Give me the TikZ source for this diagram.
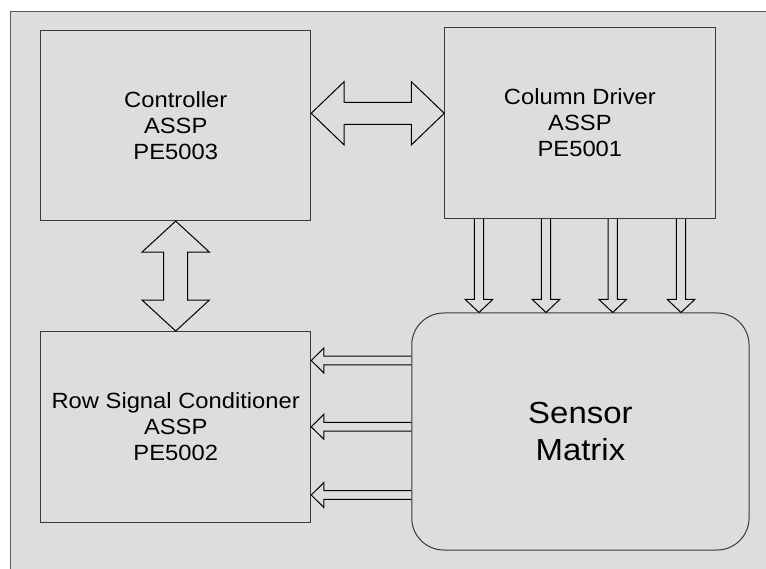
\documentclass[tikz,border=0pt]{standalone}
\usepackage{fontspec}
\setmainfont{Liberation Sans}[FakeStretch=1.08]
\usetikzlibrary{calc}
\definecolor{panel}{HTML}{DDDDDD}
\definecolor{edge}{HTML}{3A3A3A}
\begin{document}
\begin{tikzpicture}[x=1pt, y=-1pt, line width=1pt,
  unit/.style={draw=edge, inner sep=0pt, align=center, font=\fontsize{22}{26}\selectfont},
  bus/.style={draw=black, line join=miter}]
\useasboundingbox (0,0) rectangle (766,569);
\fill[panel] (10.3,11.7) rectangle (770,575);
\draw[black!65] (10.3,575) -- (10.3,11.7) -- (770,11.7);
\node[unit, minimum width=270, minimum height=189.6] (controller) at (175.7,125.8) {Controller\\ASSP\\PE5003};
\node[unit, minimum width=270.3, minimum height=190.6] (coldriver) at (579.9,123) {Column Driver\\ASSP\\PE5001};
\node[unit, minimum width=270, minimum height=190.5] (rowcond) at (175.7,426.8) {Row Signal Conditioner\\ASSP\\PE5002};
\node[unit, rounded corners=32, minimum width=337.3, minimum height=237, font=\fontsize{30.5}{37.7}\selectfont] (sensor) at (580.4,431.5) {Sensor\\Matrix};
% controller <-> column driver
\coordinate (cl) at (controller.east |- 0,113.3);
\coordinate (cr) at (coldriver.west |- 0,113.3);
\draw[bus] (cl) -- ++(33,-31.7) -- ++(0,20.7) -- ($(cr)+(-33,-11)$) -- ++(0,-20.7) -- (cr)
  -- ++(-33,31.7) -- ++(0,-20.7) -- ($(cl)+(33,11)$) -- ++(0,20.7) -- cycle;
% controller <-> row conditioner
\draw[bus] (controller.south) -- ++(33.7,31) -- ++(-21.7,0) -- ($(rowcond.north)+(12,-31)$) -- ++(21.7,0) -- (rowcond.north)
  -- ++(-33.7,-31) -- ++(21.7,0) -- ($(controller.south)+(-12,31)$) -- ++(-21.7,0) -- cycle;
% column lines
\foreach \x in {479,546,612.7,681}
  \draw[bus] ($(coldriver.south -| \x,0)+(-4.7,0)$) -- ($(sensor.north -| \x,0)+(-4.7,-13)$) -- ++(-9,0)
    -- (sensor.north -| \x,0) -- ++(13.7,-13) -- ++(-9,0) -- ($(coldriver.south -| \x,0)+(4.7,0)$);
% row lines
\foreach \y in {360.5,426.8,495}
  \draw[bus] ($(sensor.west |- 0,\y)+(0,-4.4)$) -- ($(rowcond.east |- 0,\y)+(12.7,-4.4)$) -- ++(0,-8.1)
    -- (rowcond.east |- 0,\y) -- ++(12.7,12.5) -- ++(0,-8.1) -- ($(sensor.west |- 0,\y)+(0,4.4)$);
\end{tikzpicture}
\end{document}
